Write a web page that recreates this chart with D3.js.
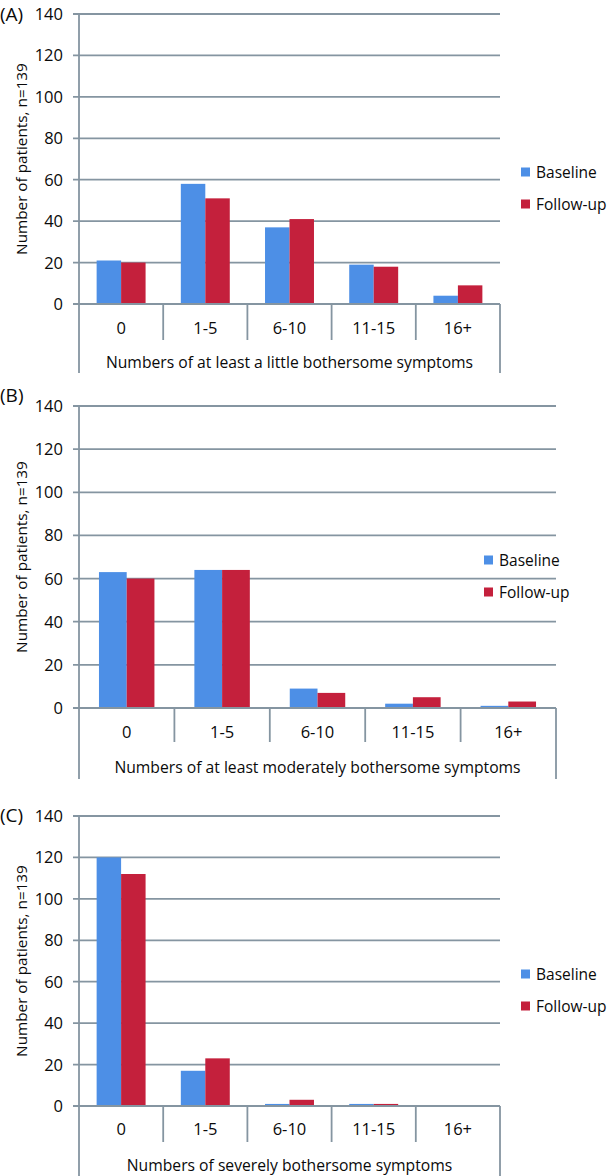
<!DOCTYPE html>
<html><head><meta charset="utf-8">
<script src="https://cdn.jsdelivr.net/npm/d3@7"></script>
<style>body{margin:0;background:#fff}svg{display:block}text{font-family:"Open Sans",sans-serif;fill:#0a0a0a}</style>
</head><body>
<script>
const categories = ["0", "1-5", "6-10", "11-15", "16+"];
const seriesNames = ["Baseline", "Follow-up"];
const baselineA = [21, 58, 37, 19, 4];
const followupA = [20, 51, 41, 18, 9];
const baselineB = [63, 64, 9, 2, 1];
const followupB = [60, 64, 7, 5, 3];
const baselineC = [120, 17, 1, 1, 0];
const followupC = [112, 23, 3, 1, 0];
const yTicks = [0, 20, 40, 60, 80, 100, 120, 140];
const panelTags = ["(A)", "(B)", "(C)"];
const xTitles = ["Numbers of at least a little bothersome symptoms",
                 "Numbers of at least moderately bothersome symptoms",
                 "Numbers of severely bothersome symptoms"];
const yTitle = "Number of patients, n=139";
const colors = ["#4d8fe6", "#c4203c"];
const gridColor = "#8595a1";

const panels = [
  {top: 14, zero: 304, left: 79, right: 500, tickEnd: 340, labY: 328, titleY: 362, lineEnd: 373, legX: 521, legY: 172, tagY: 21},
  {top: 406, zero: 708, left: 79, right: 556, tickEnd: 742, labY: 732, titleY: 767, lineEnd: 779, legX: 484, legY: 560, tagY: 402},
  {top: 816, zero: 1106, left: 79, right: 500, tickEnd: 1142, labY: 1129, titleY: 1165, lineEnd: 1176, legX: 521, legY: 974, tagY: 822}
];
const data = [[baselineA, followupA], [baselineB, followupB], [baselineC, followupC]];

const svg = d3.select("body").append("svg").attr("width", 608).attr("height", 1176);

panels.forEach((p, i) => {
  const g = svg.append("g");
  const y = d3.scaleLinear().domain([0, 140]).range([p.zero, p.top]);
  const x0 = d3.scaleBand().domain(categories).range([p.left, p.right]).padding(0);
  const x1 = d3.scaleBand().domain(seriesNames).range([0, x0.bandwidth()]).paddingInner(0).paddingOuter(0.72);

  g.selectAll("line.grid").data(yTicks).join("line")
    .attr("x1", p.left - 6).attr("x2", p.right)
    .attr("y1", d => y(d)).attr("y2", d => y(d))
    .attr("stroke", gridColor).attr("stroke-width", 1.8);

  g.selectAll("text.yt").data(yTicks).join("text")
    .attr("x", 63).attr("y", d => y(d)).attr("dy", "0.36em")
    .attr("text-anchor", "end").attr("font-size", 16.5).text(d => d);

  const rows = categories.map((c, ci) => ({c, vals: seriesNames.map((s, si) => ({s, si, v: data[i][si][ci]}))}));
  const cg = g.selectAll("g.cat").data(rows).join("g").attr("transform", d => `translate(${x0(d.c)},0)`);
  cg.selectAll("rect").data(d => d.vals).join("rect")
    .attr("x", d => x1(d.s)).attr("width", x1.bandwidth())
    .attr("y", d => y(d.v)).attr("height", d => y(0) - y(d.v))
    .attr("fill", d => colors[d.si]);

  g.append("line").attr("x1", p.left - 6).attr("x2", p.right).attr("y1", y(0)).attr("y2", y(0))
    .attr("stroke", gridColor).attr("stroke-width", 1.8);
  g.append("line").attr("x1", p.left).attr("x2", p.left).attr("y1", p.top).attr("y2", p.lineEnd)
    .attr("stroke", gridColor).attr("stroke-width", 1.8);
  g.append("line").attr("x1", p.right).attr("x2", p.right).attr("y1", y(0)).attr("y2", p.lineEnd)
    .attr("stroke", gridColor).attr("stroke-width", 1.8);
  g.selectAll("line.ct").data(categories.slice(1)).join("line")
    .attr("x1", d => x0(d)).attr("x2", d => x0(d)).attr("y1", y(0)).attr("y2", p.tickEnd)
    .attr("stroke", gridColor).attr("stroke-width", 1.8);
  g.selectAll("text.cl").data(categories).join("text")
    .attr("x", d => x0(d) + x0.bandwidth() / 2).attr("y", p.labY).attr("dy", "0.36em")
    .attr("text-anchor", "middle").attr("font-size", 16.5).text(d => d);
  g.append("text").attr("x", (p.left + p.right) / 2).attr("y", p.titleY).attr("dy", "0.36em")
    .attr("text-anchor", "middle").attr("font-size", 15.7).text(xTitles[i]);
  g.append("text").attr("transform", `translate(21,${(p.top + p.zero) / 2}) rotate(-90)`)
    .attr("dy", "0.36em").attr("text-anchor", "middle").attr("font-size", 15.3).text(yTitle);
  g.append("text").attr("x", 0).attr("y", p.tagY).attr("font-size", 19).text(panelTags[i]);
  seriesNames.forEach((s, si) => {
    const ly = p.legY + si * 32;
    g.append("rect").attr("x", p.legX).attr("y", ly - 4.5).attr("width", 9).attr("height", 9).attr("fill", colors[si]);
    g.append("text").attr("x", p.legX + 15).attr("y", ly).attr("dy", "0.36em").attr("font-size", 15.5).text(s);
  });
});
</script>
</body></html>
